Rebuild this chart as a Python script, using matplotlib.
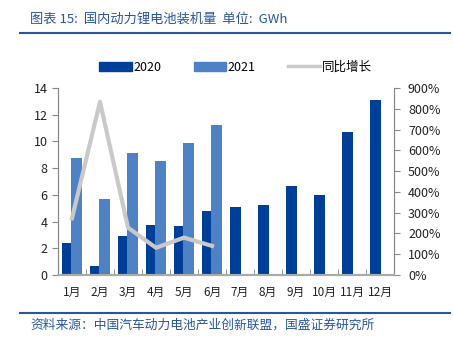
import matplotlib
matplotlib.use("Agg")
import matplotlib.pyplot as plt
import numpy as np
from matplotlib.lines import Line2D
from matplotlib.patches import Patch

plt.rcParams['font.family'] = ['Noto Sans CJK SC', 'DejaVu Sans']

months = ['1月', '2月', '3月', '4月', '5月', '6月', '7月', '8月', '9月', '10月', '11月', '12月']
v2020 = [2.42, 0.70, 2.92, 3.72, 3.65, 4.82, 5.12, 5.22, 6.69, 6.02, 10.73, 13.09]
v2021 = [8.79, 5.69, 9.14, 8.54, 9.89, 11.24]
yoy = [273, 834, 228, 131, 180, 140]

c2020 = '#003f98'
c2021 = '#4f81c5'
cline = '#c9c9c9'
cblue = '#2a55a0'

fig = plt.figure(figsize=(4.53, 3.44), dpi=100)
ax = fig.add_axes([0.128, 0.2006, 0.742, 0.5434])
ax2 = ax.twinx()

x = np.arange(len(months))
w = 0.39
ax.bar(x - 0.15, v2020, w, color=c2020, zorder=2)
ax.bar(x[:len(v2021)] + 0.15, v2021, w, color=c2021, zorder=3)
ax2.plot(x[:len(yoy)], np.array(yoy) / 100, color=cline, lw=3, zorder=4)

ax.set_zorder(1)
ax2.set_zorder(2)
ax2.patch.set_visible(False)

ax.set_xlim(-0.5, 11.5)
ax.set_ylim(0, 14)
ax.set_yticks(range(0, 15, 2))
ax2.set_ylim(0, 9)
ax2.set_yticks(range(0, 10))
ax2.set_yticklabels([f'{i*100}%' for i in range(10)])

ax.set_xticks(x)
ax.set_xticklabels(months)
ax.set_xticks(np.arange(-0.5, 12, 1), minor=True)
ax.tick_params(axis='x', which='major', length=0, pad=8, labelsize=8.5, colors='#222222')
ax.tick_params(axis='x', which='minor', length=4, direction='in', color='#888888')
ax.tick_params(axis='y', length=4, labelsize=9, colors='#888888', labelcolor='#222222')
ax2.tick_params(axis='y', length=4, labelsize=9, pad=6, colors='#888888', labelcolor='#222222')

for a in (ax, ax2):
    a.spines['top'].set_visible(False)
    a.spines['left'].set_color('#888888')
    a.spines['right'].set_color('#888888')
    a.spines['bottom'].set_color('#aaaaaa')
    a.spines['bottom'].set_linewidth(1.5)

handles = [Patch(color=c2020), Patch(color=c2021), Line2D([], [], color=cline, lw=2.5)]
fig.legend(handles, ['2020', '2021', '同比增长'], loc='center', bbox_to_anchor=(0.52, 0.805),
           ncol=3, frameon=False, fontsize=9, handlelength=2.6, handleheight=0.7,
           handletextpad=0.1, columnspacing=2.6)

fig.text(0.066, 0.945, '图表 15:  国内动力锂电池装机量  单位:  GWh', color=cblue,
         fontsize=9.5, ha='left', va='center', style='italic')
fig.add_artist(Line2D([0.044, 0.993], [0.905, 0.905], color=cblue, lw=1.5))
fig.add_artist(Line2D([0.044, 0.993], [0.09, 0.09], color=cblue, lw=1.5))
fig.text(0.066, 0.055, '资料来源：中国汽车动力电池产业创新联盟，国盛证券研究所', color=cblue,
         fontsize=9.2, ha='left', va='center', style='italic')

fig.savefig('out.png', dpi=100)
